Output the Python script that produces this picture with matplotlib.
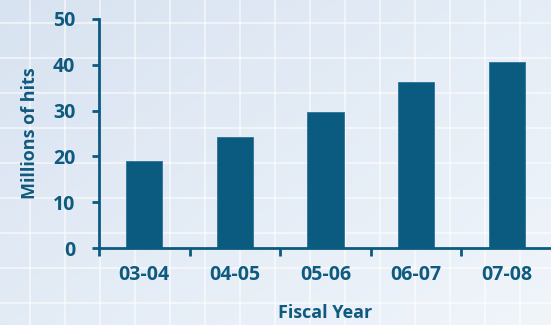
import numpy as np
import matplotlib
matplotlib.use("Agg")
import matplotlib.pyplot as plt

years = ["03-04", "04-05", "05-06", "06-07", "07-08"]
hits = [19.0, 24.2, 29.7, 36.2, 40.6]
yticks = [0, 10, 20, 30, 40, 50]

BLUE = "#0b5a80"
TEXT = "#0f5a7f"

plt.rcParams["font.family"] = ["Open Sans", "DejaVu Sans"]

fig = plt.figure(figsize=(5.51, 3.25), dpi=100)

# ---- background: soft gradient + white grid ---------------------------
bg = fig.add_axes([0, 0, 1, 1], zorder=0)
gx, gy = np.meshgrid(np.linspace(0, 1, 200), np.linspace(0, 1, 120))
grad = 0.55 * gx + 0.45 * gy
bg.imshow(grad, cmap=matplotlib.colors.LinearSegmentedColormap.from_list(
    "bg", ["#d8e3f1", "#f0f5fa"]), extent=[0, 551, 325, 0], aspect="auto")
bg.set_xlim(0, 551)
bg.set_ylim(325, 0)
bg.set_xticks(np.arange(30, 551, 35))
bg.set_yticks(np.arange(23, 325, 35))
bg.grid(True, color="white", lw=1.4, alpha=0.55)
bg.tick_params(length=0, labelbottom=False, labelleft=False)
for s in bg.spines.values():
    s.set_visible(False)

# ---- bar chart ---------------------------------------------------------
ax = fig.add_axes([99 / 551, 1 - 248 / 325, 453 / 551, 229 / 325], zorder=1)
ax.patch.set_alpha(0)
x = np.arange(len(years))
ax.bar(x, hits, width=0.4, color=BLUE, edgecolor="#2f7299", linewidth=0.6)

ax.set_xlim(-0.5, len(years) - 0.5)
ax.set_ylim(0, 50)
ax.set_yticks(yticks)
ax.set_xticks(np.arange(-0.5, len(years), 1.0))
ax.set_xticklabels([])
ax.set_xticks(x, minor=True)
ax.set_xticklabels(years, minor=True)

ax.tick_params(axis="y", direction="out", length=5, width=2, color=BLUE,
               labelsize=14, labelcolor=TEXT, pad=12)
ax.tick_params(axis="x", which="major", direction="out", length=6, width=2,
               color=BLUE)
ax.tick_params(axis="x", which="minor", length=0, labelsize=14,
               labelcolor=TEXT, pad=12)
for lab in ax.get_yticklabels() + ax.get_xticklabels(minor=True):
    lab.set_fontweight("bold")

for side in ["top", "right"]:
    ax.spines[side].set_visible(False)
for side in ["left", "bottom"]:
    ax.spines[side].set_color(BLUE)
    ax.spines[side].set_linewidth(2)

ax.set_ylabel("Millions of hits", fontsize=13, fontweight="bold",
              color=TEXT, labelpad=10)
ax.set_xlabel("Fiscal Year", fontsize=13, fontweight="bold",
              color=TEXT, labelpad=14)

fig.savefig("out.png", dpi=100)
